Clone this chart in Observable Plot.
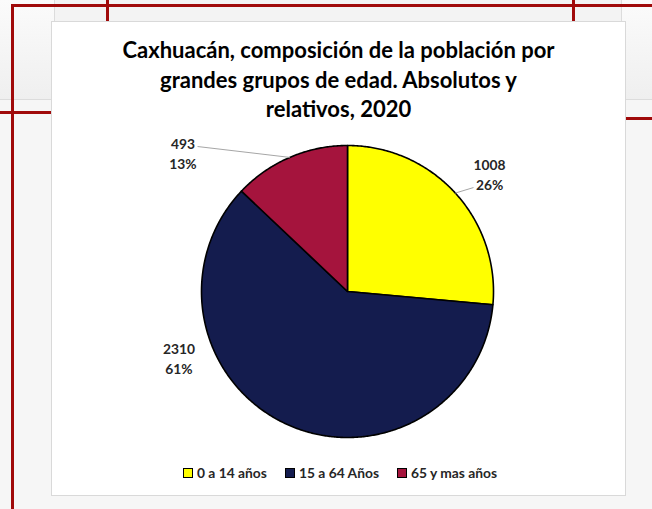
<!DOCTYPE html>
<html>
<head>
<meta charset="utf-8">
<script src="https://cdn.jsdelivr.net/npm/d3@7"></script>
<script src="https://cdn.jsdelivr.net/npm/@observablehq/plot@0.6"></script>
<style>
  html, body { margin: 0; padding: 0; }
  body { width: 652px; height: 509px; position: relative; overflow: hidden; background: #f6f6f6; font-family: Lato, "Open Sans", sans-serif; }
  .abs { position: absolute; }
  .red { position: absolute; background: #a00a0a; }
  #title { position: absolute; left: 51px; width: 575px; top: 35px; text-align: center; font-weight: 700; font-size: 22px; line-height: 29.5px; color: #000; }
  #legend { position: absolute; top: 464px; left: 0; width: 652px; font-weight: 700; font-size: 13.8px; color: #262626; }
  .item { position: absolute; display: flex; align-items: center; white-space: nowrap; }
  .sw { width: 8px; height: 8px; border: 1px solid #000; margin-right: 4px; }
  #chart { position: absolute; left: 0; top: 0; }
</style>
</head>
<body>
<!-- decorative backdrop -->
<div class="abs" style="left:0;top:0;width:652px;height:99px;background:linear-gradient(180deg,#fbfbfb,#efefef);border-bottom:1px solid #dcdcdc"></div>
<div class="abs" style="left:54px;top:0;width:566px;height:21px;background:#f3f3f3;border-left:1px solid #dcdcdc;border-right:1px solid #dcdcdc"></div>
<div class="red" style="left:11px;top:4px;width:641px;height:3px"></div>
<div class="red" style="left:11px;top:4px;width:3px;height:505px"></div>
<div class="red" style="left:106px;top:0;width:3px;height:21px"></div>
<div class="red" style="left:572px;top:0;width:3px;height:21px"></div>
<div class="red" style="left:0;top:111px;width:51px;height:3px"></div>
<div class="red" style="left:626px;top:117px;width:26px;height:3px"></div>
<!-- white chart panel -->
<div class="abs" style="left:51px;top:21px;width:573px;height:473px;background:#fff;border:1px solid #d9d9d9"></div>
<div id="chart"></div>
<div id="title">Caxhuacán, composición de la población por<br>grandes grupos de edad. Absolutos y<br>relativos, 2020</div>
<div id="legend"></div>
<script>
// ---- data ----
const categories = ["0 a 14 años", "15 a 64 Años", "65 y mas años"];
const values = [1008, 2310, 493];
const colors = ["#ffff00", "#141c4e", "#a5143d"];

// ---- label layout (data units, pie radius = 1) ----
const labelAnchor = [[0.973, 0.808], [-1.154, -0.455], [-1.127, 0.949]];
const leaderEnd = [[0.863, 0.712], null, [-1.027, 0.993]];

const total = d3.sum(values);
const arcs = d3.pie().sort(null)(values);

// slice polygons
const polys = [];
arcs.forEach((a, i) => {
  const cat = categories[i];
  polys.push({cat, x: 0, y: 0});
  const n = Math.max(2, Math.ceil((a.endAngle - a.startAngle) / (Math.PI / 360)));
  for (let k = 0; k <= n; k++) {
    const t = a.startAngle + (a.endAngle - a.startAngle) * k / n;
    polys.push({cat, x: Math.sin(t), y: Math.cos(t)});
  }
  polys.push({cat, x: 0, y: 0});
});

const labels = arcs.map((a, i) => ({
  x: labelAnchor[i][0], y: labelAnchor[i][1],
  text: `${values[i]}\n${Math.round(values[i] / total * 100)}%`
}));

const leaders = [];
arcs.forEach((a, i) => {
  if (!leaderEnd[i]) return;
  const m = (a.startAngle + a.endAngle) / 2;
  leaders.push({x1: Math.sin(m), y1: Math.cos(m), x2: leaderEnd[i][0], y2: leaderEnd[i][1]});
});

const plot = Plot.plot({
  width: 652, height: 509,
  marginLeft: 201, marginRight: 159, marginTop: 145, marginBottom: 72,
  x: {domain: [-1, 1], axis: null},
  y: {domain: [-1, 1], axis: null},
  color: {domain: categories, range: colors},
  style: {background: "transparent", overflow: "visible"},
  marks: [
    Plot.line(polys, {x: "x", y: "y", z: "cat", fill: "cat", stroke: "#000", strokeWidth: 1.6, strokeLinejoin: "round", curve: "linear"}),
    Plot.link(leaders, {x1: "x1", y1: "y1", x2: "x2", y2: "y2", stroke: "#a6a6a6", strokeWidth: 1}),
    Plot.text(labels, {x: "x", y: "y", text: "text", fontSize: 13.8, fontWeight: "bold", fill: "#262626", lineHeight: 1.42, fontFamily: "Lato, sans-serif"})
  ]
});
document.getElementById("chart").appendChild(plot);

// legend
const legendX = [183, 285, 397];
const leg = document.getElementById("legend");
categories.forEach((c, i) => {
  const it = document.createElement("div");
  it.className = "item";
  it.style.left = legendX[i] + "px";
  it.innerHTML = `<span class="sw" style="background:${colors[i]}"></span><span>${c}</span>`;
  leg.appendChild(it);
});
</script>
</body>
</html>
